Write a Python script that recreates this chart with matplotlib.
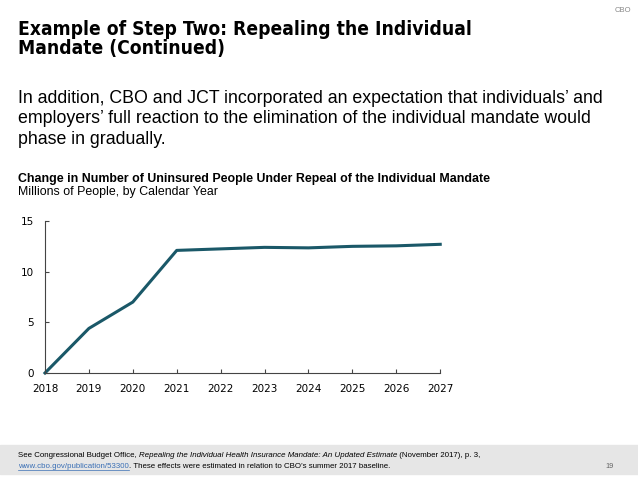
import matplotlib.pyplot as plt

years = [2018, 2019, 2020, 2021, 2022, 2023, 2024, 2025, 2026, 2027]
uninsured = [0.0, 4.4, 7.0, 12.1, 12.25, 12.4, 12.35, 12.5, 12.55, 12.7]
y_ticks = [0, 5, 10, 15]

line_color = '#1a5868'
link_color = '#3a6fb5'

fig = plt.figure(figsize=(6.38, 4.79), dpi=100)
renderer = fig.canvas.get_renderer()

# slide header
fig.text(0.99, 0.985, 'CBO', fontsize=5.5, color='#888888', family='Liberation Sans',
         ha='right', va='top')
fig.text(0.028, 0.958, 'Example of Step Two: Repealing the Individual\nMandate (Continued)',
         fontsize=13.8, fontweight='bold', fontstretch='condensed', family='DejaVu Sans',
         ha='left', va='top', linespacing=1.0)
fig.text(0.028, 0.812,
         'In addition, CBO and JCT incorporated an expectation that individuals\u2019 and\n'
         'employers\u2019 full reaction to the elimination of the individual mandate would\n'
         'phase in gradually.',
         fontsize=12.8, family='Liberation Sans', ha='left', va='top', linespacing=1.25)

fig.text(0.028, 0.638, 'Change in Number of Uninsured People Under Repeal of the Individual Mandate',
         fontsize=8.9, fontweight='bold', family='Liberation Sans', ha='left', va='top')
fig.text(0.028, 0.611, 'Millions of People, by Calendar Year',
         fontsize=8.9, family='Liberation Sans', ha='left', va='top')

ax = fig.add_axes([0.0705, 0.2213, 0.6195, 0.3173])
ax.plot(years, uninsured, color=line_color, linewidth=2.2, solid_joinstyle='round',
        clip_on=False)
ax.set_xlim(2018, 2027)
ax.set_ylim(0, 15)
ax.set_xticks(years)
ax.set_yticks(y_ticks)
for s in ['top', 'right']:
    ax.spines[s].set_visible(False)
for s in ['left', 'bottom']:
    ax.spines[s].set_color('#444444')
    ax.spines[s].set_linewidth(0.8)
ax.tick_params(direction='in', length=3, width=0.8, color='#444444', labelsize=7.5)
ax.tick_params(axis='x', pad=8)
ax.tick_params(axis='y', pad=8)

# footer band
fig.patches.append(plt.Rectangle((0, 0.01), 1, 0.062, transform=fig.transFigure,
                                 color='#e6e6e6', zorder=0))
fs = 5.7
x0 = 0.028
parts = [('See Congressional Budget Office, ', 'normal'),
         ('Repealing the Individual Health Insurance Mandate: An Updated Estimate', 'italic'),
         (' (November 2017), p. 3,', 'normal')]
for txt, style in parts:
    t = fig.text(x0, 0.049, txt, fontsize=fs, family='Liberation Sans', style=style,
                 ha='left', va='center')
    x0 += t.get_window_extent(renderer=renderer).width / fig.bbox.width
link = fig.text(0.028, 0.026, 'www.cbo.gov/publication/53300', fontsize=fs,
                family='Liberation Sans', color=link_color, ha='left', va='center')
lw = link.get_window_extent(renderer=renderer).width / fig.bbox.width
fig.add_artist(plt.Line2D([0.028, 0.028 + lw], [0.019, 0.019], transform=fig.transFigure,
                          color=link_color, linewidth=0.5))
fig.text(0.028 + lw, 0.026,
         '. These effects were estimated in relation to CBO\u2019s summer 2017 baseline.',
         fontsize=fs, family='Liberation Sans', ha='left', va='center')
fig.text(0.962, 0.026, '19', fontsize=5.3, color='#666666', family='Liberation Sans',
         ha='right', va='center')

fig.savefig('out.png', dpi=100)
